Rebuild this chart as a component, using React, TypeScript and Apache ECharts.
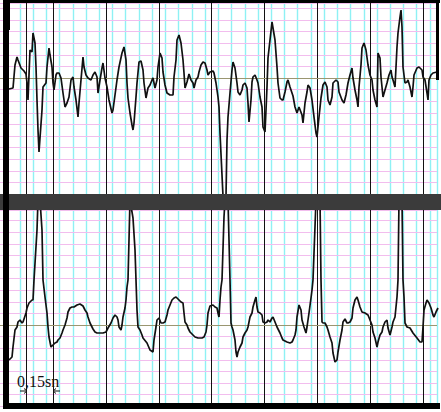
import React, { useEffect, useRef } from "react";
import * as echarts from "echarts";

// Sampling: one sample per 1/176.4 s, strip shows 437 samples
const FS = 176.4;
const SPAN = 437;
const BLACK_STEP = 0.3 * FS; // heavy line every 0.3 s
const CYAN_STEP = BLACK_STEP / 4;
const PINK_STEP = 11.6; // amplitude units per small box
const MARKER_SEC = [0.15];
const LABEL_TEXT = "0,15sn";

// [sample, amplitude] read from the strip (upper lead)
const TOP_TRACE = [
  [9, -11], [13, -10], [15, 13], [17, 21], [18, 18], [21, 10], [24, 7], [26, 4], [27, -5], [28, -22],
  [30, 28], [32, 26], [33, 45], [35, 35], [36, 11], [37, -22], [38, -52], [39, -74], [42, -32], [43, -9],
  [46, -5], [47, 11], [49, 30], [50, 23], [52, 11], [53, -5], [54, -12], [56, 3], [57, 5], [59, 5],
  [61, 0], [63, -15], [65, -29], [67, -25], [69, -19], [71, -2], [73, 1], [74, -9], [76, -22], [78, -39],
  [79, -25], [81, -2], [83, 21], [84, 11], [86, 3], [88, 0], [91, -2], [93, 3], [95, 6], [97, 1],
  [98, -15], [100, -2], [102, 10], [103, 15], [105, 0], [107, -9], [109, -22], [112, -35], [113, -32], [115, -17],
  [117, -2], [119, 11], [122, 25], [124, 31], [126, 18], [127, -5], [128, -20], [130, -35], [132, -47], [133, -52],
  [134, -45], [136, -19], [137, -5], [139, 16], [141, 17], [143, 8], [144, -5], [146, -20], [148, -10], [150, -7],
  [152, -2], [153, 0], [155, -10], [157, -2], [158, 11], [160, 25], [162, 20], [163, 6], [165, -7], [167, -15],
  [170, -17], [173, -17], [174, 1], [176, 18], [177, 38], [179, 43], [181, 35], [183, 18], [184, 5], [185, -10],
  [187, -4], [189, 4], [191, -2], [193, -5], [194, -10], [196, -2], [198, 1], [199, 6], [201, 13], [203, 16],
  [205, 15], [207, 8], [208, 3], [210, 6], [213, 7], [214, 5], [216, -5], [218, -19], [219, -29], [220, -55],
  [223, -118], [226, -118], [227, -62], [228, -39], [230, -15], [232, 8], [233, 16], [235, 10], [237, -5], [238, -14],
  [240, -17], [242, -12], [243, -7], [245, -5], [247, -10], [248, -25], [249, -44], [251, -22], [252, -4], [253, 1],
  [255, 3], [257, -2], [258, -5], [260, -19], [262, -29], [263, -49], [265, -54], [266, -32], [267, -9], [268, 20],
  [270, 38], [272, 56], [273, 50], [275, 38], [277, 11], [278, -5], [280, -20], [282, -22], [283, -22], [285, -14],
  [287, -4], [288, -2], [290, -9], [293, -18], [295, -29], [297, -35], [299, -29], [302, -37], [303, -45], [305, -25],
  [307, -14], [308, -7], [310, -10], [312, -22], [314, -39], [316, -55], [317, -59], [319, -39], [321, -20], [323, -7],
  [325, -4], [327, -9], [328, -22], [330, -27], [332, -19], [333, -5], [336, -2], [338, -4], [339, -14], [342, -22],
  [344, -25], [346, -17], [348, -5], [350, 3], [352, 10], [353, 0], [355, -12], [357, -22], [358, -29], [359, -9],
  [361, 13], [362, 30], [364, 35], [366, 28], [368, 13], [370, 3], [372, -2], [373, -12], [375, -22], [377, -29],
  [378, 25], [380, 20], [381, 1], [383, -19], [385, -12], [387, -5], [389, 3], [391, 8], [392, 1], [393, -2],
  [395, -9], [397, 31], [398, 45], [400, 61], [401, 68], [402, 51], [403, 11], [405, -5], [407, -4], [408, -2],
  [410, -9], [412, -19], [413, -9], [414, 3], [417, 10], [419, 11], [422, 8], [423, 1], [425, -2], [427, -15],
  [428, -22], [429, -2], [431, 3], [433, 5], [437, 6],
];

// [sample, amplitude] read from the strip (lower lead)
const BOTTOM_TRACE = [
  [9, -35], [12, -32], [13, -22], [15, -5], [17, -2], [18, 3], [20, 5], [22, 2], [23, 3], [26, 12],
  [27, 17], [29, 22], [32, 25], [33, 25], [34, 45], [37, 95], [38, 125], [40, 125], [42, 95], [43, 45],
  [45, 28], [47, 12], [48, -2], [49, -12], [51, -22], [53, -20], [55, -18], [57, -17], [58, -15], [60, -13],
  [62, -8], [63, -5], [65, 0], [67, 7], [68, 13], [70, 17], [72, 18], [74, 18], [77, 20], [80, 21],
  [83, 19], [85, 15], [87, 12], [88, 8], [90, 2], [93, -4], [95, -7], [97, -8], [100, -8], [103, -8],
  [106, -7], [108, -3], [111, 2], [113, 7], [115, 10], [117, 8], [118, 5], [119, -2], [121, -5], [122, 0],
  [123, 8], [125, 17], [126, 25], [127, 38], [128, 45], [130, 125], [132, 113], [133, 107], [135, 75], [136, 45],
  [137, 15], [138, -2], [140, -5], [142, -10], [143, -13], [147, -18], [150, -25], [153, -27], [154, -15], [156, -2],
  [157, 5], [159, 7], [161, 2], [163, 2], [165, 3], [167, 10], [168, 15], [170, 20], [172, 25], [174, 27],
  [176, 28], [178, 26], [181, 23], [183, 22], [184, 12], [185, 3], [187, 0], [188, -3], [190, -7], [193, -10],
  [195, -12], [198, -13], [202, -13], [204, -12], [206, -7], [207, 0], [208, 12], [210, 19], [213, 20], [215, 18],
  [217, 17], [218, 12], [219, 8], [220, 25], [221, 38], [222, 45], [224, 108], [225, 125], [228, 125], [229, 85],
  [230, 45], [231, 2], [232, -2], [233, -5], [235, -15], [236, -27], [237, -32], [238, -27], [240, -22], [242, -18],
  [243, -12], [245, -8], [247, -5], [248, -2], [250, 8], [252, 12], [253, 18], [255, 25], [256, 28], [257, 18],
  [258, 13], [260, 12], [262, 10], [263, 3], [265, 2], [267, 3], [268, 5], [270, 3], [272, 7], [273, 8],
  [275, 3], [277, -2], [278, -4], [280, -8], [282, -13], [283, -15], [287, -17], [290, -18], [292, -17], [293, -15],
  [295, -10], [296, -5], [297, 8], [299, 20], [301, 15], [302, 5], [304, -2], [306, -8], [307, -2], [309, 12],
  [311, 27], [312, 35], [313, 45], [316, 125], [320, 125], [321, 45], [322, 3], [323, 2], [325, 2], [327, -2],
  [328, -5], [330, -12], [332, -18], [333, -28], [335, -37], [337, -35], [338, -27], [340, -15], [342, -5], [343, 3],
  [345, 6], [347, 2], [348, 2], [350, 3], [352, 7], [353, 17], [355, 25], [357, 28], [358, 25], [360, 18],
  [362, 13], [365, 12], [368, 10], [370, 5], [372, 0], [373, -7], [375, -13], [377, -22], [378, -17], [380, -10],
  [382, -7], [383, -2], [385, 3], [387, 5], [388, -3], [390, -10], [392, -2], [393, 3], [395, 8], [397, 28],
  [398, 45], [399, 125], [402, 125], [403, 45], [404, 28], [405, 2], [407, -2], [410, -3], [413, -8], [417, -13],
  [420, -17], [422, -17], [423, -2], [424, 15], [426, 22], [427, 25], [429, 22], [431, 17], [433, 10], [434, 8],
  [436, 13], [438, 17],
];

// amplitude windows of the two strips
const TOP_RANGE = [-10 * PINK_STEP, 75];
const BOTTOM_RANGE = [-7 * PINK_STEP, 115];

export default function App() {
  const ref = useRef<HTMLDivElement>(null);
  useEffect(() => {
    if (!ref.current) return;
    const chart = echarts.init(ref.current, null, { renderer: "svg" });
    const TOP_Y = 3;
    const TOP_H = 191;
    const BOT_Y = 210;
    const BOT_H = 196.2;
    const cyanOffset = CYAN_STEP / 2;
    const hidden = { axisLine: { show: false }, axisTick: { show: false }, axisLabel: { show: false } };
    const blackX = {
      type: "value",
      min: 0,
      max: SPAN,
      interval: BLACK_STEP,
      z: 2,
      ...hidden,
      splitLine: { show: true, showMinLine: false, showMaxLine: false, lineStyle: { color: "#111", width: 1 } },
    };
    const cyanX = {
      type: "value",
      min: 0,
      max: SPAN - cyanOffset,
      interval: CYAN_STEP,
      z: 0,
      ...hidden,
      splitLine: { show: true, lineStyle: { color: "#8ef1f4", width: 1.4 } },
    };
    const pinkY = (r: number[]) => ({
      type: "value",
      min: r[0],
      max: r[1],
      interval: PINK_STEP,
      z: 1,
      ...hidden,
      splitLine: { show: true, lineStyle: { color: "#f2bdee", width: 1 } },
    });
    const dummyY = { type: "value", min: 0, max: 1, show: false, splitLine: { show: false } };
    const mark = {
      silent: true,
      symbol: "none",
      label: { show: false },
      lineStyle: { color: "#9a9670", type: "solid", width: 1 },
      data: [
        { yAxis: 0 },
        ...MARKER_SEC.map((s) => ({ xAxis: s * FS, lineStyle: { color: "#111", type: "solid", width: 1 } })),
      ],
    };
    const lineStyle = { color: "#111", width: 1.7 };
    const arrowStyle = { stroke: "#111", lineWidth: 1, fill: "none" };
    chart.setOption({
      animation: false,
      backgroundColor: "#ffffff",
      grid: [
        { left: 0, top: TOP_Y, width: SPAN, height: TOP_H },
        { left: 0, top: BOT_Y, width: SPAN, height: BOT_H },
        { left: cyanOffset, top: TOP_Y, width: SPAN - cyanOffset, height: TOP_H },
        { left: cyanOffset, top: BOT_Y, width: SPAN - cyanOffset, height: BOT_H },
      ],
      xAxis: [
        { ...blackX, gridIndex: 0 },
        { ...blackX, gridIndex: 1 },
        { ...cyanX, gridIndex: 2 },
        { ...cyanX, gridIndex: 3 },
      ],
      yAxis: [
        { ...pinkY(TOP_RANGE), gridIndex: 0 },
        { ...pinkY(BOTTOM_RANGE), gridIndex: 1 },
        { ...dummyY, gridIndex: 2 },
        { ...dummyY, gridIndex: 3 },
      ],
      series: [
        {
          type: "line",
          xAxisIndex: 0,
          yAxisIndex: 0,
          data: TOP_TRACE,
          showSymbol: false,
          z: 5,
          lineStyle,
          markLine: mark,
        },
        {
          type: "line",
          xAxisIndex: 1,
          yAxisIndex: 1,
          data: BOTTOM_TRACE,
          showSymbol: false,
          z: 5,
          lineStyle,
          markLine: mark,
        },
      ],
      graphic: [
        { type: "rect", z: 100, shape: { x: 0, y: 194, width: 441, height: 16 }, style: { fill: "#3b3b3b" } },
        { type: "rect", z: 100, shape: { x: 3, y: 0, width: 6, height: 409 }, style: { fill: "#000" } },
        { type: "rect", z: 100, shape: { x: 3, y: 0, width: 7, height: 30 }, style: { fill: "#000" } },
        { type: "rect", z: 100, shape: { x: 3, y: 0, width: 437, height: 3 }, style: { fill: "#000" } },
        { type: "rect", z: 100, shape: { x: 436, y: 0, width: 3, height: 80 }, style: { fill: "#000" } },
        { type: "rect", z: 100, shape: { x: 3, y: 403, width: 437, height: 6 }, style: { fill: "#000" } },
        {
          type: "text",
          z: 100,
          x: 17,
          y: 373,
          style: { text: LABEL_TEXT, font: "16px 'Liberation Serif', serif", fill: "#111" },
        },
        { type: "polyline", z: 100, shape: { points: [[20, 391], [27, 391]] }, style: arrowStyle },
        { type: "polyline", z: 100, shape: { points: [[24, 388.5], [27, 391], [24, 393.5]] }, style: arrowStyle },
        { type: "polyline", z: 100, shape: { points: [[53, 391], [60, 391]] }, style: arrowStyle },
        { type: "polyline", z: 100, shape: { points: [[56, 388.5], [53, 391], [56, 393.5]] }, style: arrowStyle },
      ],
    });
    return () => chart.dispose();
  }, []);
  return (
    <div
      ref={ref}
      style={{ position: "fixed", left: 0, top: 0, width: 441, height: 412, background: "#fff" }}
    />
  );
}
